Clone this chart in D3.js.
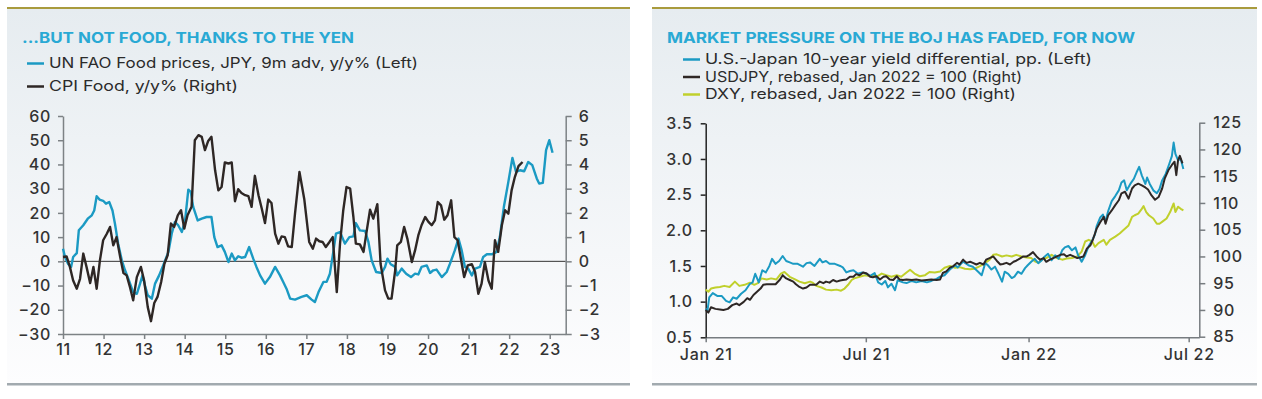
<!DOCTYPE html>
<html><head><meta charset="utf-8">
<script src="https://cdn.jsdelivr.net/npm/d3@7"></script>
<style>
body{margin:0;background:#fff}
svg{display:block}
text{font-family:Inter,"Open Sans",sans-serif}
</style></head>
<body><svg id="c" width="1262" height="399"></svg>
<script>
// ---------- LEFT CHART DATA ----------
const leftTitle = "...BUT NOT FOOD, THANKS TO THE YEN";
const leftLegend = ["UN FAO Food prices, JPY, 9m adv, y/y% (Left)", "CPI Food, y/y% (Right)"];
const leftXTicks = [2011,2012,2013,2014,2015,2016,2017,2018,2019,2020,2021,2022,2023];
const leftXLabels = ["11","12","13","14","15","16","17","18","19","20","21","22","23"];
const leftYTicks = [60,50,40,30,20,10,0,-10,-20,-30];
const rightYTicks = [6,5,4,3,2,1,0,-1,-2,-3];

const faoT = [2011.00,2011.05,2011.13,2011.20,2011.25,2011.34,2011.39,2011.50,2011.61,2011.71,2011.77,2011.83,2011.90,2011.99,2012.06,2012.14,2012.22,2012.28,2012.36,2012.45,2012.53,2012.61,2012.73,2012.82,2012.90,2012.96,2013.02,2013.09,2013.19,2013.27,2013.37,2013.47,2013.60,2013.68,2013.76,2013.84,2013.93,2014.01,2014.09,2014.15,2014.21,2014.32,2014.42,2014.54,2014.66,2014.73,2014.81,2014.91,2014.99,2015.08,2015.16,2015.24,2015.32,2015.40,2015.49,2015.59,2015.69,2015.77,2015.86,2015.98,2016.10,2016.23,2016.35,2016.43,2016.51,2016.60,2016.72,2016.88,2017.01,2017.13,2017.21,2017.30,2017.42,2017.50,2017.58,2017.67,2017.73,2017.83,2017.95,2018.06,2018.16,2018.22,2018.32,2018.45,2018.53,2018.61,2018.72,2018.86,2018.94,2019.00,2019.08,2019.19,2019.24,2019.35,2019.46,2019.58,2019.68,2019.76,2019.84,2019.97,2020.05,2020.13,2020.21,2020.34,2020.46,2020.54,2020.66,2020.75,2020.83,2020.91,2020.99,2021.08,2021.16,2021.28,2021.36,2021.45,2021.57,2021.69,2021.77,2021.87,2021.98,2022.08,2022.17,2022.27,2022.37,2022.47,2022.57,2022.68,2022.74,2022.83,2022.91,2022.99,2023.07];
const faoV = [5.2,1.8,-1.2,-2.3,1.8,3.4,12.8,14.9,17.6,19,21,26.9,25.5,25,23.8,24.5,21,15.6,7.3,0.4,-3.7,-7.2,-12.7,-13.4,-9.2,-5.8,-9.9,-14,-15.4,-9.2,-5.8,-1.7,3.9,11.4,16.3,14.9,12.1,16.9,29.6,28.7,22.5,16.9,17.6,18.3,18.3,10,5.9,6.6,3.9,-0.3,3.2,0.4,2.1,1.5,1.8,5.9,1.1,-2.3,-5.8,-9.2,-6.5,-2.3,-5.8,-8.5,-11.3,-15.4,-15.8,-14.7,-14,-15.8,-16.8,-12.7,-8.5,-8.5,-5.1,4.5,11.4,12.1,7.3,10,10.3,15.8,12.8,12.5,8,0.4,-4.4,-4.8,-2.3,1.1,-1.2,-2.3,-5.8,-3,-5.1,-6.5,-5.1,-5.4,-2.3,-1.7,-4.8,-3.7,-3.4,-6.5,-4.4,-1,4.5,9.4,4.5,-2.3,-3,-5.8,-3,-2.3,1.8,2.9,2.9,3.9,10,22.5,32.8,42.7,36.9,37.6,37.2,41,39.7,34.2,32.1,32.4,45.9,50,44.8];

const cpiT = [2011.00,2011.09,2011.17,2011.25,2011.34,2011.42,2011.50,2011.58,2011.67,2011.75,2011.83,2011.91,2011.99,2012.08,2012.16,2012.24,2012.32,2012.41,2012.49,2012.57,2012.65,2012.73,2012.82,2012.92,2013.00,2013.09,2013.17,2013.25,2013.33,2013.42,2013.50,2013.58,2013.66,2013.74,2013.83,2013.91,2013.99,2014.07,2014.17,2014.25,2014.34,2014.42,2014.50,2014.58,2014.66,2014.75,2014.83,2014.91,2014.99,2015.08,2015.16,2015.24,2015.32,2015.40,2015.49,2015.57,2015.65,2015.73,2015.82,2015.90,2015.98,2016.06,2016.14,2016.23,2016.31,2016.39,2016.47,2016.55,2016.64,2016.72,2016.83,2016.95,2017.07,2017.16,2017.24,2017.32,2017.40,2017.48,2017.57,2017.65,2017.75,2017.83,2017.91,2017.99,2018.08,2018.16,2018.22,2018.32,2018.41,2018.49,2018.57,2018.65,2018.75,2018.83,2018.94,2019.02,2019.10,2019.19,2019.24,2019.33,2019.41,2019.49,2019.60,2019.68,2019.76,2019.84,2019.93,2020.01,2020.09,2020.17,2020.24,2020.32,2020.40,2020.48,2020.57,2020.65,2020.73,2020.81,2020.89,2020.98,2021.08,2021.16,2021.24,2021.32,2021.40,2021.49,2021.57,2021.65,2021.73,2021.82,2021.90,2021.98,2022.06,2022.14,2022.23,2022.33];
const cpiV = [0.18,0.2,-0.23,-0.79,-1.13,-0.72,0.32,-0.23,-0.9,-0.23,-1.13,0.04,0.87,1.14,1.42,0.66,1.0,0.18,-0.48,-0.58,-1.06,-1.61,-0.65,-0.23,-0.79,-1.89,-2.47,-1.72,-1.47,-0.85,-0.1,0.25,1.56,1.42,1.9,2.11,1.35,1.9,2.25,5.0,5.21,5.14,4.59,4.97,5.14,3.76,2.93,3.07,4.08,4.04,4.08,2.48,2.98,2.82,2.73,2.69,2.25,3.53,2.73,2.18,1.58,2.55,2.41,1.14,0.73,1.03,1.0,0.62,0.59,1.97,3.69,2.55,0.8,0.52,0.94,0.83,0.8,0.59,0.8,1.0,-1.27,0.73,2.11,3.07,3.0,1.83,0.73,0.7,0.39,1.28,2.13,1.76,2.36,-0.1,-1.2,-1.54,-1.54,-0.37,0.66,0.8,1.42,0.94,-0.03,0.45,1.07,1.49,1.83,1.63,1.49,1.69,2.45,2.31,1.72,1.9,2.52,1.0,0.87,0.11,-0.65,-0.17,-0.12,-0.44,-1.34,-0.92,-0.03,-0.79,-1.13,0.87,0.39,1.49,2.11,1.97,2.93,3.48,3.93,4.1];

// ---------- RIGHT CHART DATA ----------
const rightTitle = "MARKET PRESSURE ON THE BOJ HAS FADED, FOR NOW";
const rightLegend = ["U.S.-Japan 10-year yield differential, pp. (Left)", "USDJPY, rebased, Jan 2022 = 100 (Right)", "DXY, rebased, Jan 2022 = 100 (Right)"];
const rXTicks = ["2021-01-01","2021-07-01","2022-01-01","2022-07-01"];
const rXLabels = ["Jan 21","Jul 21","Jan 22","Jul 22"];
const rYLeftTicks = [3.5,3.0,2.5,2.0,1.5,1.0,0.5];
const rYRightTicks = [125,120,115,110,105,100,95,90,85];

const diffD = ["2021-01-01","2021-01-03","2021-01-05","2021-01-09","2021-01-14","2021-01-19","2021-01-24","2021-01-28","2021-02-01","2021-02-05","2021-02-10","2021-02-15","2021-02-20","2021-02-23","2021-02-26","2021-03-02","2021-03-06","2021-03-10","2021-03-14","2021-03-17","2021-03-21","2021-03-25","2021-03-29","2021-04-02","2021-04-06","2021-04-10","2021-04-15","2021-04-21","2021-04-25","2021-04-29","2021-05-04","2021-05-10","2021-05-13","2021-05-17","2021-05-21","2021-05-27","2021-06-02","2021-06-05","2021-06-09","2021-06-13","2021-06-17","2021-06-22","2021-06-27","2021-07-02","2021-07-06","2021-07-11","2021-07-15","2021-07-19","2021-07-23","2021-07-26","2021-07-30","2021-08-03","2021-08-06","2021-08-12","2021-08-16","2021-08-22","2021-08-27","2021-09-02","2021-09-08","2021-09-13","2021-09-19","2021-09-23","2021-09-28","2021-10-04","2021-10-10","2021-10-13","2021-10-19","2021-10-25","2021-10-30","2021-11-05","2021-11-09","2021-11-13","2021-11-16","2021-11-20","2021-11-24","2021-11-28","2021-12-02","2021-12-05","2021-12-09","2021-12-13","2021-12-16","2021-12-20","2021-12-24","2021-12-28","2021-12-31","2022-01-04","2022-01-08","2022-01-12","2022-01-16","2022-01-19","2022-01-23","2022-01-27","2022-01-31","2022-02-04","2022-02-08","2022-02-11","2022-02-15","2022-02-19","2022-02-23","2022-02-26","2022-03-02","2022-03-06","2022-03-10","2022-03-14","2022-03-17","2022-03-19","2022-03-23","2022-03-26","2022-03-29","2022-04-01","2022-04-05","2022-04-09","2022-04-13","2022-04-16","2022-04-19","2022-04-22","2022-04-26","2022-04-30","2022-05-03","2022-05-06","2022-05-09","2022-05-13","2022-05-15","2022-05-18","2022-05-22","2022-05-26","2022-05-29","2022-06-01","2022-06-05","2022-06-09","2022-06-12","2022-06-14","2022-06-16","2022-06-19","2022-06-22","2022-06-25"];
const diffV = [0.90,0.87,1.06,1.12,1.08,1.08,1.01,0.99,1.06,1.04,1.11,1.16,1.25,1.27,1.39,1.27,1.44,1.41,1.50,1.60,1.53,1.57,1.64,1.57,1.55,1.53,1.53,1.49,1.54,1.55,1.50,1.60,1.55,1.57,1.53,1.53,1.50,1.48,1.41,1.43,1.44,1.39,1.41,1.39,1.36,1.40,1.27,1.24,1.29,1.20,1.25,1.16,1.30,1.27,1.26,1.29,1.27,1.29,1.27,1.29,1.32,1.35,1.37,1.45,1.51,1.48,1.56,1.51,1.49,1.42,1.37,1.54,1.51,1.45,1.49,1.39,1.28,1.42,1.39,1.33,1.35,1.42,1.39,1.47,1.51,1.56,1.60,1.54,1.58,1.63,1.67,1.58,1.65,1.60,1.72,1.76,1.78,1.72,1.76,1.65,1.56,1.65,1.78,1.86,1.94,2.06,2.18,2.22,2.13,2.27,2.41,2.48,2.56,2.67,2.70,2.56,2.65,2.72,2.81,2.89,2.77,2.65,2.74,2.65,2.56,2.52,2.58,2.70,2.79,2.93,3.04,3.23,3.07,2.98,3.00,2.86];

const jpyD = ["2021-01-01","2021-01-04","2021-01-07","2021-01-12","2021-01-17","2021-01-21","2021-01-26","2021-01-31","2021-02-05","2021-02-08","2021-02-13","2021-02-17","2021-02-20","2021-02-24","2021-02-28","2021-03-04","2021-03-07","2021-03-11","2021-03-16","2021-03-21","2021-03-26","2021-03-29","2021-04-02","2021-04-06","2021-04-10","2021-04-13","2021-04-17","2021-04-21","2021-04-25","2021-04-29","2021-05-02","2021-05-06","2021-05-10","2021-05-14","2021-05-17","2021-05-21","2021-05-25","2021-05-29","2021-06-02","2021-06-05","2021-06-09","2021-06-13","2021-06-17","2021-06-20","2021-06-24","2021-06-28","2021-07-02","2021-07-06","2021-07-09","2021-07-13","2021-07-17","2021-07-21","2021-07-24","2021-07-28","2021-08-01","2021-08-05","2021-08-08","2021-08-12","2021-08-16","2021-08-22","2021-08-27","2021-09-02","2021-09-08","2021-09-13","2021-09-19","2021-09-23","2021-09-26","2021-09-30","2021-10-04","2021-10-08","2021-10-12","2021-10-15","2021-10-19","2021-10-23","2021-10-27","2021-10-30","2021-11-03","2021-11-07","2021-11-11","2021-11-14","2021-11-18","2021-11-22","2021-11-26","2021-11-30","2021-12-03","2021-12-07","2021-12-11","2021-12-15","2021-12-18","2021-12-22","2021-12-26","2021-12-30","2022-01-02","2022-01-06","2022-01-10","2022-01-14","2022-01-18","2022-01-21","2022-01-25","2022-01-29","2022-02-02","2022-02-06","2022-02-10","2022-02-13","2022-02-17","2022-02-21","2022-02-25","2022-02-28","2022-03-04","2022-03-08","2022-03-12","2022-03-15","2022-03-19","2022-03-23","2022-03-27","2022-03-29","2022-04-01","2022-04-05","2022-04-09","2022-04-13","2022-04-16","2022-04-20","2022-04-24","2022-04-28","2022-05-01","2022-05-05","2022-05-09","2022-05-13","2022-05-16","2022-05-20","2022-05-24","2022-05-28","2022-06-01","2022-06-04","2022-06-08","2022-06-12","2022-06-15","2022-06-17","2022-06-19","2022-06-21","2022-06-24"];
const jpyV = [90.0,89.5,90.5,90.2,90.1,90.0,90.2,90.9,91.2,90.9,91.5,92.2,91.9,92.8,93.4,94.0,94.7,94.8,94.8,94.8,95.7,96.5,95.9,95.6,95.3,94.8,94.3,94.0,94.2,94.7,94.7,94.7,95.3,95.0,95.3,95.1,95.6,95.3,95.5,95.6,95.7,96.2,96.2,96.7,96.5,97.0,96.8,96.2,96.1,96.3,95.7,96.2,96.3,95.7,95.6,96.3,95.7,95.6,95.7,95.6,95.7,95.5,95.6,95.7,95.6,95.7,96.9,97.2,97.9,98.2,98.8,98.5,99.4,98.8,99.0,98.8,98.5,98.8,98.5,99.4,99.7,100.0,99.2,98.5,98.6,98.8,98.5,99.0,99.2,99.6,100.0,100.0,100.3,100.8,100.0,99.4,99.7,99.0,99.4,99.7,100.0,100.3,100.4,100.0,100.3,100.0,99.7,99.8,100.0,101.5,102.1,103.3,105.2,106.4,107.4,106.1,107.7,108.6,109.6,110.5,111.8,112.1,110.8,112.7,113.3,113.6,113.3,112.9,112.5,111.4,110.6,111.1,112.7,114.6,116.1,117.1,117.7,115.2,118.0,118.8,117.4];

const dxyD = ["2021-01-01","2021-01-04","2021-01-07","2021-01-12","2021-01-17","2021-01-22","2021-01-28","2021-02-03","2021-02-08","2021-02-14","2021-02-20","2021-02-25","2021-03-01","2021-03-05","2021-03-11","2021-03-16","2021-03-22","2021-03-27","2021-03-31","2021-04-06","2021-04-12","2021-04-17","2021-04-23","2021-04-29","2021-05-02","2021-05-06","2021-05-12","2021-05-17","2021-05-23","2021-05-29","2021-06-03","2021-06-07","2021-06-11","2021-06-15","2021-06-18","2021-06-24","2021-06-30","2021-07-06","2021-07-09","2021-07-13","2021-07-19","2021-07-24","2021-07-30","2021-08-05","2021-08-10","2021-08-16","2021-08-20","2021-08-25","2021-08-31","2021-09-06","2021-09-11","2021-09-17","2021-09-23","2021-09-28","2021-10-04","2021-10-10","2021-10-15","2021-10-21","2021-10-27","2021-11-01","2021-11-07","2021-11-13","2021-11-18","2021-11-22","2021-11-26","2021-12-02","2021-12-07","2021-12-13","2021-12-18","2021-12-24","2021-12-30","2022-01-04","2022-01-08","2022-01-12","2022-01-16","2022-01-21","2022-01-27","2022-02-02","2022-02-08","2022-02-13","2022-02-19","2022-02-25","2022-03-02","2022-03-06","2022-03-10","2022-03-14","2022-03-17","2022-03-21","2022-03-27","2022-03-30","2022-04-03","2022-04-09","2022-04-14","2022-04-18","2022-04-24","2022-04-28","2022-05-01","2022-05-05","2022-05-09","2022-05-11","2022-05-14","2022-05-17","2022-05-22","2022-05-26","2022-05-29","2022-06-02","2022-06-06","2022-06-10","2022-06-14","2022-06-16","2022-06-19","2022-06-22","2022-06-25"];
const dxyV = [93.8,93.4,94.0,94.2,94.3,94.5,94.3,95.3,94.5,94.7,95.1,94.7,95.0,95.9,95.7,95.9,95.7,96.8,97.1,96.2,95.7,95.3,95.0,95.3,95.1,94.5,94.2,93.8,93.7,93.8,93.6,94.0,94.7,95.6,95.9,96.2,96.5,96.3,96.5,96.2,96.8,96.5,96.2,96.5,96.2,97.0,97.5,96.8,96.3,96.5,97.1,97.0,97.2,97.9,98.2,97.9,98.0,97.7,97.6,97.7,98.2,98.8,99.4,100.3,100.4,100.0,100.2,100.0,100.3,100.0,99.8,99.7,99.1,98.8,99.4,99.7,100.3,99.7,99.4,99.6,99.7,100.0,100.9,102.8,103.1,102.8,101.8,102.5,103.1,102.2,103.1,103.7,104.3,104.9,105.8,107.4,107.7,108.0,108.9,109.4,108.3,107.7,107.1,106.1,106.1,106.6,107.1,108.3,109.9,108.3,109.3,108.9,108.6];

// ---------- DRAWING ----------
const svg = d3.select("#c");
const C = {title:"#29a9d4", blue:"#1b9ac3", black:"#2e2725", lime:"#c0d02c", text:"#2b2b2b", olive:"#a99b3d", gray:"#a2aaaf", axis:"#7d8285"};

const defs = svg.append("defs");
const grad = defs.append("linearGradient").attr("id","bg").attr("x1",0).attr("y1",0).attr("x2",0).attr("y2",1);
grad.append("stop").attr("offset","0%").attr("stop-color","#e6ecf0");
grad.append("stop").attr("offset","100%").attr("stop-color","#fdfdfe");

function panel(x0, x1, title, titleW, legend, legendColors, legendW, legX, legY0, legDy){
  svg.append("rect").attr("x",x0).attr("y",8).attr("width",x1-x0).attr("height",376).attr("fill","url(#bg)");
  svg.append("rect").attr("x",x0).attr("y",7).attr("width",x1-x0).attr("height",2).attr("fill",C.olive);
  svg.append("rect").attr("x",x0).attr("y",383).attr("width",x1-x0).attr("height",2.5).attr("fill",C.gray);
  svg.append("text").attr("x",x0+15).attr("y",43).attr("fill",C.title).attr("font-size",15).attr("font-weight",700)
    .attr("textLength",titleW).attr("lengthAdjust","spacingAndGlyphs").text(title);
  legend.forEach((t,i)=>{
    const y = legY0 + i*legDy;
    svg.append("line").attr("x1",legX).attr("x2",legX+17).attr("y1",y-4.5).attr("y2",y-4.5)
      .attr("stroke",legendColors[i]).attr("stroke-width",2.5);
    svg.append("text").attr("x",legX+22).attr("y",y).attr("fill",C.text).attr("font-size",14.5)
      .attr("textLength",legendW[i]).attr("lengthAdjust","spacingAndGlyphs").text(t);
  });
}

panel(7, 630, leftTitle, 332, leftLegend, [C.blue, C.black], [369, 189], 27, 68, 23);
panel(652, 1257, rightTitle, 468, rightLegend, [C.blue, C.black, C.lime], [387, 317, 311], 683, 64, 17.5);

const tickFont = 16;
const styleText = (sel)=> sel.attr("fill","#333").attr("font-size",tickFont).attr("font-family","Inter, sans-serif").attr("font-weight",500).attr("letter-spacing","0.7px");

// ---- Left chart ----
{
  const x = d3.scaleLinear().domain([2011, 2023.394]).range([63, 565.7]);
  const yL = d3.scaleLinear().domain([-30, 60]).range([334, 116]);
  const yR = d3.scaleLinear().domain([-3, 6]).range([334, 116]);
  const g = svg.append("g");
  g.append("line").attr("x1",63).attr("x2",565.7).attr("y1",yL(0)).attr("y2",yL(0)).attr("stroke","#333").attr("stroke-width",1);
  const ax = (sel)=>{ sel.select(".domain").attr("stroke",C.axis).attr("stroke-width",1.5); sel.selectAll(".tick line").attr("stroke",C.axis).attr("stroke-width",1.5);
    sel.selectAll("text").call(styleText); };
  g.append("g").attr("transform","translate(63,0)").call(d3.axisLeft(yL).tickValues(leftYTicks).tickSize(5).tickSizeOuter(0).tickPadding(7)).call(ax);
  g.append("g").attr("transform","translate(565.7,0)").call(d3.axisRight(yR).tickValues(rightYTicks).tickSize(6).tickSizeOuter(0).tickPadding(7)).call(ax);
  g.append("g").attr("transform","translate(0,334)").call(d3.axisBottom(x).tickValues(leftXTicks).tickFormat((d,i)=>leftXLabels[i]).tickSize(5).tickSizeOuter(0).tickPadding(5)).call(ax);
  const lf = d3.line().x((d,i)=>x(faoT[i])).y(d=>yL(d));
  const lc = d3.line().x((d,i)=>x(cpiT[i])).y(d=>yR(d));
  g.append("path").attr("d",lf(faoV)).attr("fill","none").attr("stroke",C.blue).attr("stroke-width",2.4).attr("stroke-linejoin","round");
  g.append("path").attr("d",lc(cpiV)).attr("fill","none").attr("stroke",C.black).attr("stroke-width",2.4).attr("stroke-linejoin","round");
}

// ---- Right chart ----
{
  const p = d3.utcParse("%Y-%m-%d");
  const x = d3.scaleUtc().domain([p("2021-01-01"), p("2022-07-13")]).range([705.7, 1199.3]);
  const yL = d3.scaleLinear().domain([0.5, 3.5]).range([337.3, 123.3]);
  const yR = d3.scaleLinear().domain([85, 125]).range([336.7, 122.7]);
  const g = svg.append("g");
  const ax = (col)=>(sel)=>{ sel.select(".domain").attr("stroke",col).attr("stroke-width",1.5); sel.selectAll(".tick line").attr("stroke",col).attr("stroke-width",1.5);
    sel.selectAll("text").call(styleText); };
  g.append("g").attr("transform","translate(0,337.3)").call(d3.axisBottom(x).tickValues(rXTicks.map(p)).tickFormat((d,i)=>rXLabels[i]).tickSize(5).tickSizeOuter(0).tickPadding(6)).call(ax("#777c80"));
  g.append("g").attr("transform","translate(1199.3,0)").call(d3.axisRight(yR).tickValues(rYRightTicks).tickSize(6).tickSizeOuter(0).tickPadding(8)).call(ax("#777c80"));
  g.append("g").attr("transform","translate(705.7,0)").call(d3.axisLeft(yL).tickValues(rYLeftTicks).tickFormat(d3.format(".1f")).tickSize(5).tickSizeOuter(0).tickPadding(8)).call(ax("#222"));
  const mk = (D, V, s) => d3.line().x((d,i)=>x(p(D[i]))).y(d=>s(d))(V);
  g.append("path").attr("d",mk(dxyD,dxyV,yR)).attr("fill","none").attr("stroke",C.lime).attr("stroke-width",2).attr("stroke-linejoin","round");
  g.append("path").attr("d",mk(diffD,diffV,yL)).attr("fill","none").attr("stroke",C.blue).attr("stroke-width",2).attr("stroke-linejoin","round");
  g.append("path").attr("d",mk(jpyD,jpyV,yR)).attr("fill","none").attr("stroke",C.black).attr("stroke-width",2).attr("stroke-linejoin","round");
}
</script></body></html>
